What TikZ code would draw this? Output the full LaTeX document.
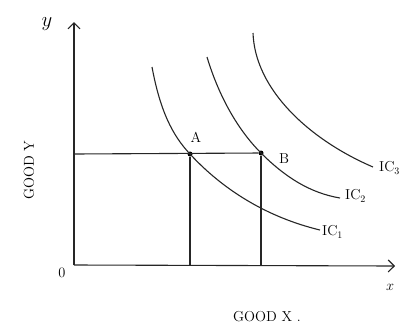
\documentclass[tikz,border=0pt]{standalone}
\usetikzlibrary{arrows.meta}
\begin{document}
\begin{tikzpicture}[x=1pt,y=-1pt,
  ln/.style={line width=1.1pt,draw=black!85},
  curve/.style={line width=1.1pt,draw=black!85},
  lbl/.style={font=\Large,inner sep=1pt},
  dot/.style={circle,fill=black,inner sep=0pt,minimum size=5pt},
  axarrow/.style={-{Straight Barb[length=6pt,width=12pt]}}]
\useasboundingbox (0,0) rectangle (409,330);
\coordinate (O) at (74,265);
\coordinate (ytip) at (74,22);
\coordinate (xtip) at (395,266);
\node[dot] (A) at (190,154) {};
\node[dot] (B) at (261,153) {};
\coordinate (Ax) at (190,265);
\coordinate (Bx) at (261,265);
\coordinate (Ay) at (74,154);
% axes
\draw[ln,axarrow] (O) -- (ytip);
\draw[ln,axarrow] (O) -- (xtip);
% guide lines
\draw[ln] (Ay) -- (B);
\draw[ln] (A) -- (Ax);
\draw[ln] (B) -- (Bx);
% indifference curves
\draw[curve] (152,67) .. controls (160,110) and (172,135) .. (A.center)
  .. controls (225,192) and (270,218) .. (320,230);
\draw[curve] (207,57) .. controls (220,100) and (240,132) .. (B.center)
  .. controls (285,177) and (310,193) .. (340,198);
\draw[curve] (253,33) .. controls (255,90) and (310,140) .. (373,167);
% labels
\node[lbl,font=\huge] (ly) at (47,24) {$y$};
\node[lbl] (lx) at (390,287) {$x$};
\node[lbl] (l0) at (62,273) {0};
\node[lbl,rotate=90] (lgy) at (29,170) {GOOD Y};
\node[lbl] (lgx) at (267,317) {GOOD X .};
\node[lbl] (lA) at (196,137) {A};
\node[lbl] (lB) at (284,159) {B};
\node[lbl,anchor=west] (l1) at (321,232) {IC$_1$};
\node[lbl,anchor=west] (l2) at (344,196) {IC$_2$};
\node[lbl,anchor=west] (l3) at (378,168) {IC$_3$};
\end{tikzpicture}
\end{document}
